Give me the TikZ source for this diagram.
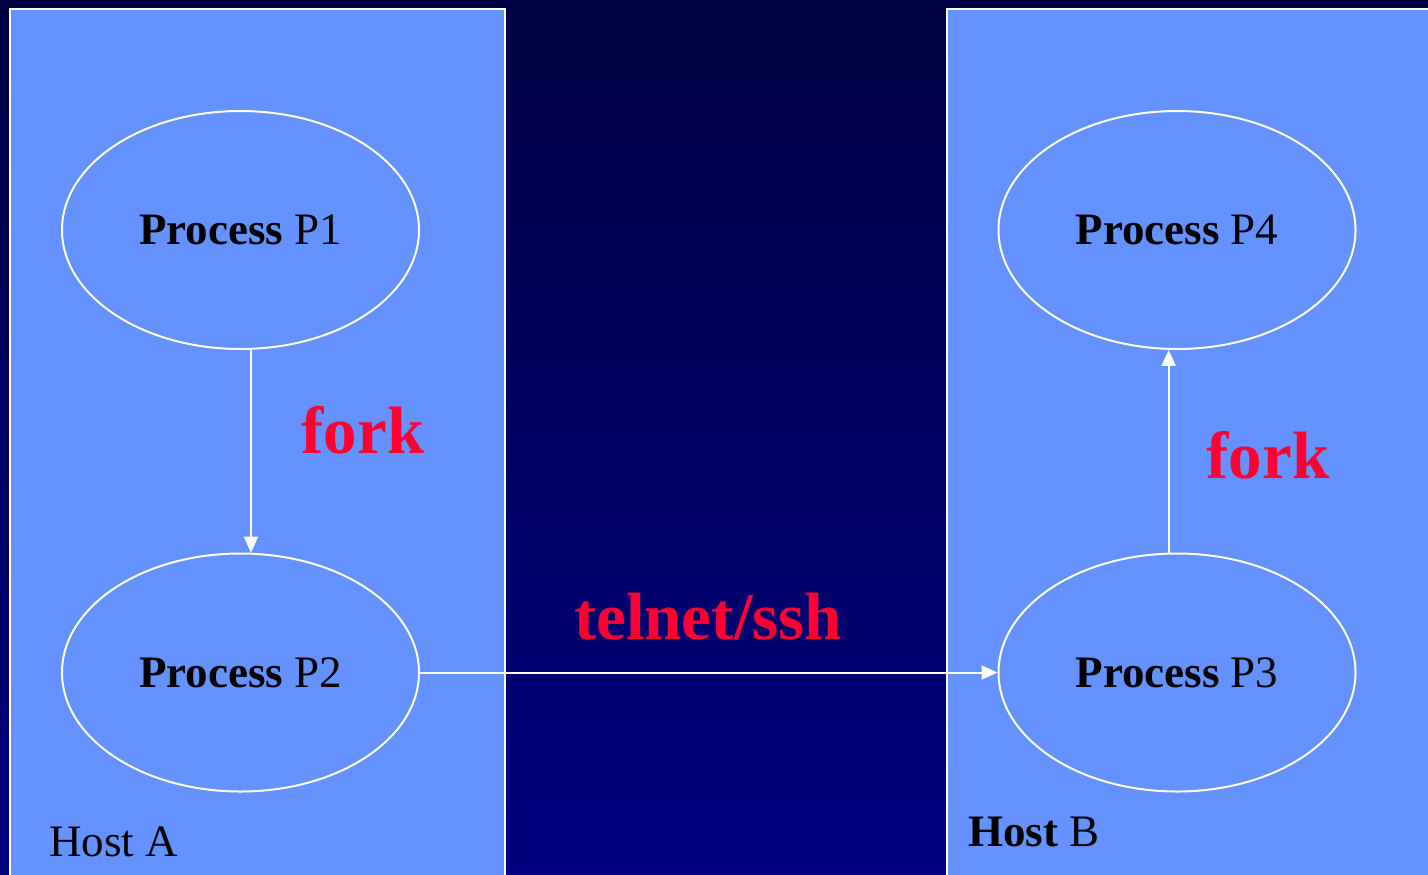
\documentclass[tikz,border=0pt]{standalone}
\usepackage{fontspec}
\setmainfont{Liberation Serif}
\usetikzlibrary{arrows.meta,shapes.geometric}
\definecolor{hostfill}{HTML}{6492FF}
\definecolor{bgtop}{HTML}{000044}
\definecolor{bgbot}{HTML}{000080}
\definecolor{forkred}{HTML}{FF0033}
\tikzset{
  host/.style={draw=white, line width=1pt, fill=hostfill},
  proc/.style={ellipse, draw=white, line width=1pt, minimum width=178.5pt, minimum height=119pt, inner sep=0pt, font=\fontsize{22.5}{27}\selectfont, text=black},
  conn/.style={draw=white, line width=1pt, -{Triangle[length=8pt,width=7pt]}},
  redlabel/.style={text=forkred, font=\fontsize{33.5}{40}\selectfont\bfseries, inner sep=0pt},
  hostlabel/.style={text=black, font=\fontsize{22.5}{27}\selectfont, inner sep=0pt, anchor=base west}
}
\begin{document}
\begin{tikzpicture}[x=0.5pt, y=-0.5pt]
\useasboundingbox (0,0) rectangle (1428,874);
\clip (0,0) rectangle (1428,874);
\shade[top color=bgtop, bottom color=bgbot] (0,0) rectangle (1428,874);
\draw[host] (10,9) rectangle (505,890);
\draw[host] (947,9) rectangle (1440,890);
\node[proc] (P1) at (240.5,230) {\raisebox{-1pt}{\textbf{Process} P1}};
\node[proc] (P2) at (240.5,672.5) {\raisebox{-1pt}{\textbf{Process} P2}};
\node[proc] (P4) at (1177,230) {\raisebox{-1pt}{\textbf{Process} P4}};
\node[proc] (P3) at (1177,672.5) {\raisebox{-1pt}{\textbf{Process} P3}};
\draw[conn] (P1.-85.7) -- (P2.85.7);
\draw[conn] (P3.94.3) -- (P4.-94.3);
\draw[conn] (P2.east) -- (P3.west);
\node[redlabel] (f1) at (363,430) {fork};
\node[redlabel] (f2) at (1268,455) {fork};
\node[redlabel] (ts) at (708,617) {telnet/ssh};
\node[hostlabel] (hA) at (49,856) {Host A};
\node[hostlabel] (hB) at (968,846) {\textbf{Host} B};
\end{tikzpicture}
\end{document}
